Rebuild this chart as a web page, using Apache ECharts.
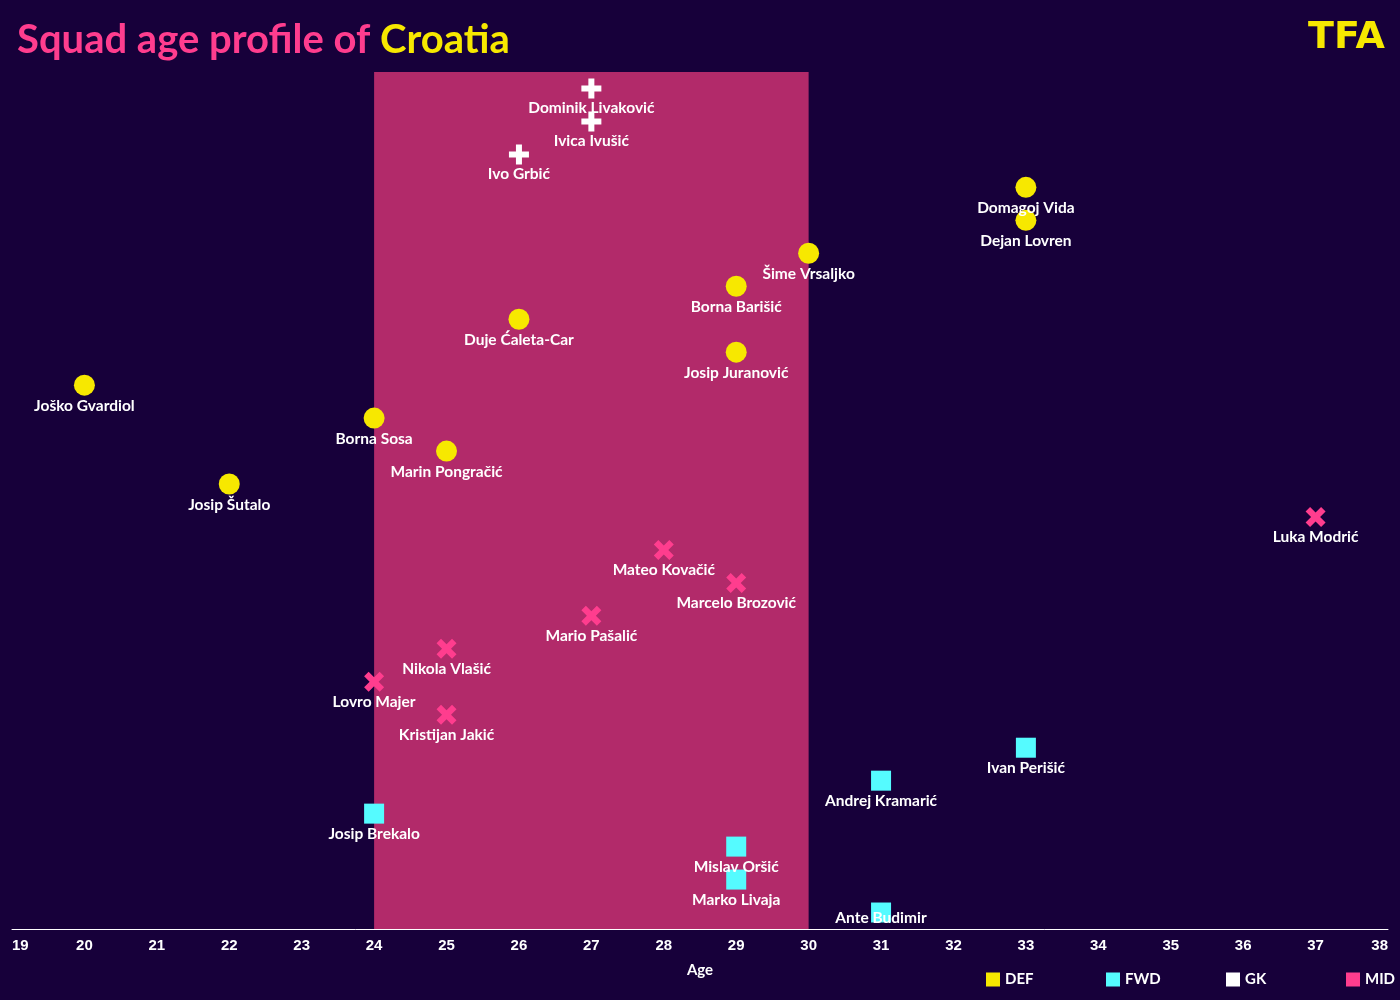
<!DOCTYPE html>
<html>
<head>
<meta charset="utf-8">
<script src="https://cdn.jsdelivr.net/npm/echarts@6/dist/echarts.min.js"></script>
<style>
html,body{margin:0;padding:0;background:#17003a;}
#chart{width:1400px;height:1000px;}
</style>
</head>
<body>
<div id="chart"></div>
<script>
// Players listed top to bottom
var players = ['Dominik Livaković','Ivica Ivušić','Ivo Grbić','Domagoj Vida','Dejan Lovren','Šime Vrsaljko','Borna Barišić','Duje Ćaleta-Car','Josip Juranović','Joško Gvardiol','Borna Sosa','Marin Pongračić','Josip Šutalo','Luka Modrić','Mateo Kovačić','Marcelo Brozović','Mario Pašalić','Nikola Vlašić','Lovro Majer','Kristijan Jakić','Ivan Perišić','Andrej Kramarić','Josip Brekalo','Mislav Oršić','Marko Livaja','Ante Budimir'];
var ages = [27,27,26,33,33,30,29,26,29,20,24,25,22,37,28,29,27,25,24,25,33,31,24,29,29,31];
var positions = ['GK','GK','GK','DEF','DEF','DEF','DEF','DEF','DEF','DEF','DEF','DEF','DEF','MID','MID','MID','MID','MID','MID','MID','FWD','FWD','FWD','FWD','FWD','FWD'];
var positionNames = ['DEF','FWD','GK','MID'];
var xTicks = [19,38];
var primeAge = [24,30];

var colors = {DEF:'#f7e800', FWD:'#55fbff', GK:'#ffffff', MID:'#ff3d8e'};
var symbols = {
  DEF:'circle',
  FWD:'rect',
  GK:'path://M7,0H13V7H20V13H13V20H7V13H0V7H7Z',
  MID:'path://M4.5,0L10,5.5L15.5,0L20,4.5L14.5,10L20,15.5L15.5,20L10,14.5L4.5,20L0,15.5L5.5,10L0,4.5Z'
};
var sizes = {DEF:21, FWD:20, GK:20, MID:20};

var n = players.length;
var series = positionNames.map(function(pos, k){
  var data = [];
  for (var i = 0; i < n; i++) {
    if (positions[i] === pos) data.push([ages[i], n - 1 - i, players[i]]);
  }
  var s = {
    name: pos,
    type: 'scatter',
    data: data,
    symbol: symbols[pos],
    symbolSize: sizes[pos],
    itemStyle: {color: colors[pos], opacity: 1},
    label: {
      show: true,
      position: 'bottom',
      distance: 2,
      formatter: function(p){ return p.data[2]; },
      color: '#ffffff',
      fontFamily: 'Lato',
      fontWeight: 'bold',
      fontSize: 15.5
    },
    labelLayout: function(p){
      var limit = 926;
      if (p.labelRect.y + p.labelRect.height > limit) {
        return {
          x: p.rect.x + p.rect.width / 2,
          y: limit - p.labelRect.height,
          align: 'center',
          verticalAlign: 'top'
        };
      }
    },
    emphasis: {disabled: true},
    z: 3
  };
  if (k === 0) {
    s.markArea = {
      silent: true,
      itemStyle: {color: '#b22a6a', opacity: 1},
      data: [[{xAxis: primeAge[0]}, {xAxis: primeAge[1]}]],
      z: 1
    };
  }
  return s;
});

var legends = positionNames.map(function(pos, k){
  return {
    data: [{name: pos, icon: 'rect', itemStyle: {color: colors[pos]}}],
    left: 986 + k * 120,
    top: 972,
    padding: 0,
    itemWidth: 14,
    itemHeight: 14,
    itemGap: 0,
    selectedMode: false,
    textStyle: {color: '#ffffff', fontFamily: 'Lato', fontWeight: 'bold', fontSize: 15}
  };
});

var chart = echarts.init(document.getElementById('chart'), null, {renderer: 'canvas'});
chart.setOption({
  backgroundColor: '#17003a',
  animation: false,
  title: {
    text: '{a|Squad age profile of }{b|Croatia}',
    left: 12,
    top: 15,
    textStyle: {
      rich: {
        a: {color: '#ff3d8e', fontFamily: 'Lato', fontWeight: 'bold', fontSize: 40},
        b: {color: '#f7e800', fontFamily: 'Lato', fontWeight: 'bold', fontSize: 40}
      }
    }
  },
  graphic: [{
    type: 'text',
    right: 15,
    top: 19,
    style: {text: 'TFA', fill: '#f7e800', font: '900 38px "DejaVu Sans"'}
  }],
  legend: legends,
  grid: {left: 12, right: 12, top: 72, bottom: 71, containLabel: false},
  xAxis: {
    type: 'value',
    min: xTicks[0],
    max: xTicks[1],
    interval: 1,
    name: 'Age',
    nameLocation: 'middle',
    nameGap: 34,
    nameTextStyle: {color: '#ffffff', fontFamily: 'Lato', fontWeight: 'bold', fontSize: 15},
    axisLine: {onZero: false, lineStyle: {color: '#ffffff', width: 1}},
    axisTick: {show: false},
    splitLine: {show: false},
    axisLabel: {
      color: '#ffffff', fontFamily: 'Liberation Sans', fontWeight: 'bold', fontSize: 15,
      margin: 9, alignMinLabel: 'left', alignMaxLabel: 'right'
    }
  },
  yAxis: {
    type: 'value',
    min: -0.5,
    max: n - 0.5,
    show: false,
    splitLine: {show: false}
  },
  series: series
});
</script>
</body>
</html>
